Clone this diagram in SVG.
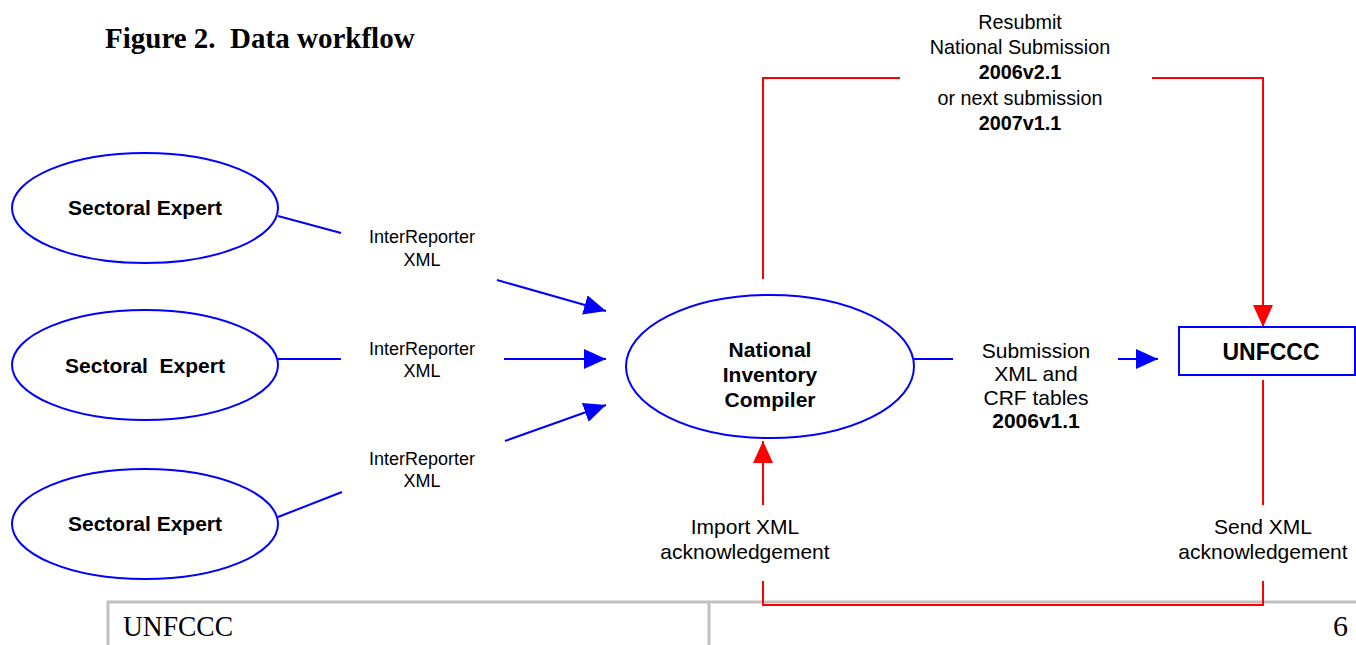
<svg xmlns="http://www.w3.org/2000/svg" width="1356" height="645" viewBox="0 0 1356 645">
<style>
.ell{fill:#fff;stroke:#0000ff;stroke-width:2}
.blue{stroke:#0000ff;stroke-width:2;fill:none}
.red{stroke:#ff0000;stroke-width:2;fill:none}
.lbl{font-family:"Liberation Sans",Arial,sans-serif;fill:#000;text-anchor:middle}
.b{font-weight:bold}
.tbl{stroke:#c0c0c0;stroke-width:3;fill:none}
.serif{font-family:"Liberation Serif","Times New Roman",serif;fill:#000}
</style>
<defs>
<marker id="ab" markerUnits="userSpaceOnUse" markerWidth="24" markerHeight="20" refX="22" refY="10" orient="auto"><path d="M0,0 L22,10 L0,20 z" fill="#0000ff"/></marker>
<marker id="ar" markerUnits="userSpaceOnUse" markerWidth="24" markerHeight="20" refX="22" refY="10" orient="auto"><path d="M0,0 L22,10 L0,20 z" fill="#ff0000"/></marker>
</defs>
<rect width="1356" height="645" fill="#fff"/>
<text class="serif b" x="105" y="48" font-size="29" xml:space="preserve">Figure 2.  Data workflow</text>

<g id="connectors">
<line class="blue" x1="278" y1="216" x2="341" y2="233"/>
<line class="blue" x1="497" y1="280" x2="606" y2="311" marker-end="url(#ab)"/>
<line class="blue" x1="278" y1="359" x2="341" y2="359"/>
<line class="blue" x1="504" y1="359" x2="606" y2="359" marker-end="url(#ab)"/>
<line class="blue" x1="278" y1="517" x2="342" y2="492"/>
<line class="blue" x1="505" y1="441" x2="606" y2="405" marker-end="url(#ab)"/>
<line class="blue" x1="913" y1="359" x2="953" y2="359"/>
<line class="blue" x1="1118" y1="359" x2="1158" y2="359" marker-end="url(#ab)"/>
<polyline class="red" points="763,279 763,78 900,78"/>
<polyline class="red" points="1152,78 1263,78 1263,327" marker-end="url(#ar)"/>
<line class="red" x1="763" y1="505" x2="763" y2="441" marker-end="url(#ar)"/>
<line class="red" x1="1263" y1="380" x2="1263" y2="505"/>
<g id="labels">
<text class="lbl" font-size="18"><tspan x="422" y="243">InterReporter</tspan><tspan x="422" y="266">XML</tspan></text>
<text class="lbl" font-size="18"><tspan x="422" y="355">InterReporter</tspan><tspan x="422" y="377">XML</tspan></text>
<text class="lbl" font-size="18"><tspan x="422" y="465">InterReporter</tspan><tspan x="422" y="487">XML</tspan></text>
<text class="lbl" font-size="21"><tspan x="1036" y="358">Submission</tspan><tspan x="1036" y="381">XML and</tspan><tspan x="1036" y="405">CRF tables</tspan><tspan x="1036" y="428" class="b">2006v1.1</tspan></text>
<text class="lbl" font-size="19.8"><tspan x="1020" y="29">Resubmit</tspan><tspan x="1020" y="54">National Submission</tspan><tspan x="1020" y="79" class="b">2006v2.1</tspan><tspan x="1020" y="105">or next submission</tspan><tspan x="1020" y="130" class="b">2007v1.1</tspan></text>
<text class="lbl" font-size="21"><tspan x="745" y="534">Import XML</tspan><tspan x="745" y="559">acknowledgement</tspan></text>
<text class="lbl" font-size="21"><tspan x="1263" y="534">Send XML</tspan><tspan x="1263" y="559">acknowledgement</tspan></text>
</g>
</g>

<g id="expert1"><ellipse class="ell" cx="145" cy="208" rx="133" ry="55"/><text class="lbl b" font-size="21" x="145" y="215">Sectoral Expert</text></g>
<g id="expert2"><ellipse class="ell" cx="145" cy="365" rx="133" ry="55"/><text class="lbl b" font-size="21" x="145" y="373" xml:space="preserve">Sectoral  Expert</text></g>
<g id="expert3"><ellipse class="ell" cx="145" cy="524" rx="133" ry="55"/><text class="lbl b" font-size="21" x="145" y="531">Sectoral Expert</text></g>
<g id="compiler"><ellipse class="ell" cx="770" cy="366.5" rx="144" ry="71.5"/><text class="lbl b" font-size="21"><tspan x="770" y="357">National</tspan><tspan x="770" y="382">Inventory</tspan><tspan x="770" y="407">Compiler</tspan></text></g>
<g id="unfccc"><rect x="1179" y="327" width="176" height="48" fill="#fff" stroke="#0000ff" stroke-width="2"/><text class="lbl b" font-size="23" x="1271" y="360">UNFCCC</text></g>

<g id="footer">
<path class="tbl" d="M108,645 V602 H1356 M709,602 V645"/>
<text class="serif" font-size="30" x="123" y="636" textLength="110" lengthAdjust="spacingAndGlyphs">UNFCCC</text>
<text class="serif" font-size="30" x="1348" y="636" text-anchor="end">6</text>
</g>
<polyline class="red" points="763,581 763,605 1263,605 1263,581"/>
</svg>
